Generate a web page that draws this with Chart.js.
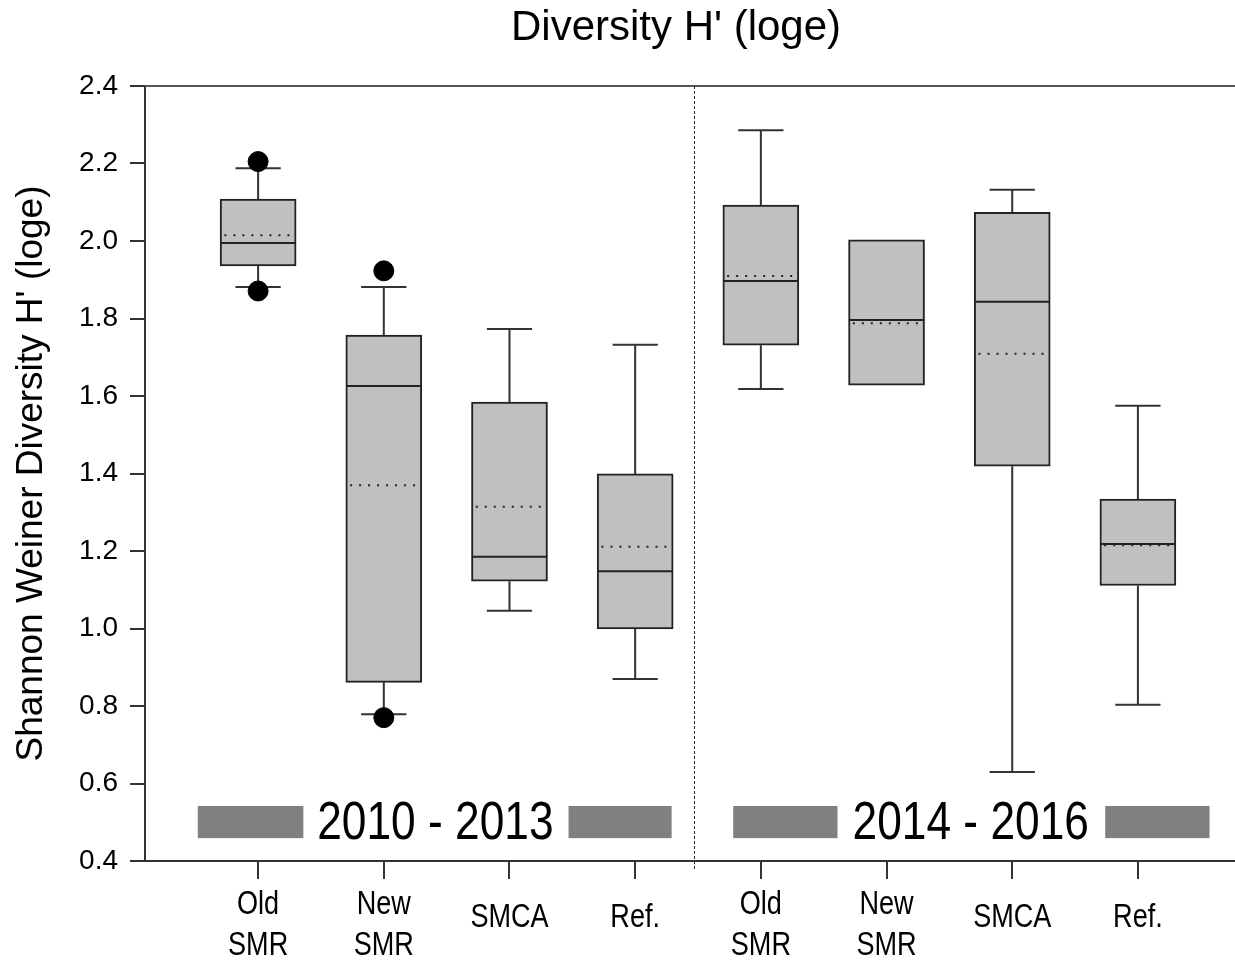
<!DOCTYPE html>
<html>
<head>
<meta charset="utf-8">
<script src="https://cdn.jsdelivr.net/npm/chart.js@4.4.1/dist/chart.umd.min.js"></script>
<style>
  body { margin: 0; background: #fff; }
</style>
</head>
<body>
<canvas id="diversidadChart" width="1235" height="961"></canvas>
<script>
// Datos (H' loge por grupo y periodo)
const xLabels = [['Old', 'SMR'], ['New', 'SMR'], ['SMCA'], ['Ref.'], ['Old', 'SMR'], ['New', 'SMR'], ['SMCA'], ['Ref.']];
const whiskerLow = [1.881, 0.779, 1.046, 0.870, 1.618, null, 0.630, 0.803];
const q1 = [1.936, 0.861, 1.122, 0.999, 1.731, 1.628, 1.419, 1.111];
const median = [1.995, 1.626, 1.185, 1.148, 1.897, 1.796, 1.843, 1.218];
const mean = [2.015, 1.370, 1.314, 1.211, 1.910, 1.788, 1.709, 1.215];
const q3 = [2.108, 1.757, 1.584, 1.399, 2.093, 2.003, 2.074, 1.334];
const whiskerHigh = [2.188, 1.881, 1.773, 1.732, 2.286, null, 2.132, 1.575];
const outlierX = [1, 1, 2, 2];
const outlierY = [2.205, 1.871, 1.923, 0.770];
const yTicks = [0.4, 0.6, 0.8, 1.0, 1.2, 1.4, 1.6, 1.8, 2.0, 2.2, 2.4];
const periodLabels = ['2010 - 2013', '2014 - 2016'];

const baseFont = '"Liberation Sans", Arial, sans-serif';

// Texto estrecho (tipo Calibri/Arial Narrow) escalando en horizontal
function textoEstrecho(ctx, txt, x, y, size, escala) {
  ctx.save();
  ctx.translate(x, y);
  ctx.scale(escala, 1);
  ctx.font = `${size}px ${baseFont}`;
  ctx.textAlign = 'center';
  ctx.textBaseline = 'middle';
  ctx.fillText(txt, 0, 0);
  ctx.restore();
}

// Plugin para bigotes, mediana, media y anotaciones
const boxPlotPlugin = {
  id: 'boxPlot',
  beforeDatasetsDraw(chart) {
    const { ctx, scales: { x, y } } = chart;
    ctx.save();
    ctx.strokeStyle = '#333';
    ctx.lineWidth = 2;
    xLabels.forEach((_, i) => {
      const cx = x.getPixelForValue(i + 1);
      const capL = x.getPixelForValue(i + 1 - 0.18);
      const capR = x.getPixelForValue(i + 1 + 0.18);
      [[whiskerHigh[i], q3[i]], [whiskerLow[i], q1[i]]].forEach(([w, q]) => {
        if (w === null) return;
        ctx.beginPath();
        ctx.moveTo(cx, y.getPixelForValue(w));
        ctx.lineTo(cx, y.getPixelForValue(q));
        ctx.moveTo(capL, y.getPixelForValue(w));
        ctx.lineTo(capR, y.getPixelForValue(w));
        ctx.stroke();
      });
    });
    ctx.restore();
  },
  afterDatasetsDraw(chart) {
    const { ctx, scales: { x, y } } = chart;
    const half = chart.options.plugins.boxPlot.boxHalf;
    ctx.save();
    xLabels.forEach((_, i) => {
      const l = x.getPixelForValue(i + 1 - half);
      const r = x.getPixelForValue(i + 1 + half);
      // media (punteada)
      ctx.strokeStyle = '#222';
      ctx.lineWidth = 2;
      ctx.setLineDash([2, 7]);
      ctx.beginPath();
      ctx.moveTo(l + 4, y.getPixelForValue(mean[i]));
      ctx.lineTo(r - 2, y.getPixelForValue(mean[i]));
      ctx.stroke();
      // mediana
      ctx.setLineDash([]);
      ctx.beginPath();
      ctx.moveTo(l, y.getPixelForValue(median[i]));
      ctx.lineTo(r, y.getPixelForValue(median[i]));
      ctx.stroke();
    });
    ctx.restore();
  },
  afterDraw(chart) {
    const { ctx, chartArea, scales: { x, y } } = chart;
    const opts = chart.options.plugins.boxPlot;
    ctx.save();

    // título superior
    ctx.fillStyle = '#000';
    ctx.font = `42px ${baseFont}`;
    ctx.textAlign = 'center';
    ctx.textBaseline = 'middle';
    ctx.fillText(opts.title, opts.titleX, 28);

    // borde superior y prolongación del eje x hasta el borde
    ctx.strokeStyle = '#555';
    ctx.lineWidth = 2;
    ctx.beginPath();
    ctx.moveTo(chartArea.left, chartArea.top);
    ctx.lineTo(chart.width, chartArea.top);
    ctx.stroke();
    ctx.strokeStyle = '#333';
    ctx.beginPath();
    ctx.moveTo(chartArea.right - 1, chartArea.bottom);
    ctx.lineTo(chart.width, chartArea.bottom);
    ctx.stroke();

    // línea divisoria entre periodos
    const dx = Math.round(x.getPixelForValue(opts.divider)) + 0.5;
    ctx.strokeStyle = '#222';
    ctx.lineWidth = 1;
    ctx.setLineDash([3, 2]);
    ctx.beginPath();
    ctx.moveTo(dx, chartArea.top);
    ctx.lineTo(dx, chartArea.bottom + 8);
    ctx.stroke();
    ctx.setLineDash([]);

    // barras grises y texto de periodo
    ctx.fillStyle = '#808080';
    opts.periodBars.forEach(([a, b]) => {
      const x0 = x.getPixelForValue(a);
      const x1 = x.getPixelForValue(b);
      const y0 = y.getPixelForValue(opts.barTop);
      const y1 = y.getPixelForValue(opts.barBottom);
      ctx.fillRect(x0, y0, x1 - x0, y1 - y0);
    });
    ctx.fillStyle = '#000';
    periodLabels.forEach((txt, i) => {
      textoEstrecho(ctx, txt, x.getPixelForValue(opts.periodCenters[i]), y.getPixelForValue(opts.textY) + 2, 54, 0.82);
    });

    // etiquetas del eje x
    xLabels.forEach((lines, i) => {
      const cx = x.getPixelForValue(i + 1);
      if (lines.length === 2) {
        textoEstrecho(ctx, lines[0], cx, chartArea.bottom + 44, 33, 0.82);
        textoEstrecho(ctx, lines[1], cx, chartArea.bottom + 85, 33, 0.82);
      } else {
        textoEstrecho(ctx, lines[0], cx, chartArea.bottom + 57, 33, 0.82);
      }
    });
    ctx.restore();
  },
};

const ctx = document.getElementById('diversidadChart').getContext('2d');

new Chart(ctx, {
  type: 'bar',
  data: {
    datasets: [
      {
        type: 'scatter',
        data: outlierX.map((v, i) => ({ x: v, y: outlierY[i] })),
        backgroundColor: '#000',
        borderColor: '#000',
        pointRadius: 10,
        order: 0,
      },
      {
        type: 'bar',
        data: xLabels.map((_, i) => ({ x: i + 1, y: [q1[i], q3[i]] })),
        backgroundColor: '#c0c0c0',
        borderColor: '#222',
        borderWidth: 2,
        borderSkipped: false,
        barThickness: 76,
        order: 1,
      },
    ],
  },
  options: {
    responsive: false,
    animation: false,
    layout: { padding: { left: 0, right: 0, top: 86, bottom: 0 } },
    plugins: {
      legend: { display: false },
      tooltip: { enabled: false },
      title: { display: false },
      boxPlot: {
        title: "Diversity H' (loge)",
        titleX: 676,
        boxHalf: 0.3,
        divider: 4.47,
        periodBars: [[0.52, 1.36], [3.47, 4.29], [4.78, 5.61], [7.74, 8.57]],
        periodCenters: [2.41, 6.67],
        barTop: 0.542,
        barBottom: 0.459,
        textY: 0.5,
      },
    },
    scales: {
      x: {
        type: 'linear',
        min: 0.1,
        max: 8.685,
        offset: false,
        afterBuildTicks: (scale) => {
          scale.ticks = xLabels.map((_, i) => ({ value: i + 1 }));
        },
        afterFit: (scale) => {
          scale.height = 100;
        },
        ticks: { callback: () => '', autoSkip: false },
        grid: { drawOnChartArea: false, drawTicks: true, tickLength: 18, color: '#333', lineWidth: 2, offset: false },
        border: { display: true, color: '#333', width: 2 },
      },
      y: {
        min: 0.4,
        max: 2.4,
        afterBuildTicks: (scale) => {
          scale.ticks = yTicks.map((v) => ({ value: v }));
        },
        afterFit: (scale) => {
          scale.width = 145;
        },
        ticks: {
          color: '#000',
          padding: 12,
          font: { family: baseFont, size: 28 },
          callback: (v) => v.toFixed(1),
        },
        grid: { drawOnChartArea: false, drawTicks: true, tickLength: 15, color: '#333', lineWidth: 2 },
        border: { display: true, color: '#333', width: 2 },
        title: {
          display: true,
          text: "Shannon Weiner Diversity H' (loge)",
          color: '#000',
          font: { family: baseFont, size: 37 },
          padding: { top: 10, bottom: 0 },
        },
      },
    },
  },
  plugins: [boxPlotPlugin],
});
</script>
</body>
</html>
